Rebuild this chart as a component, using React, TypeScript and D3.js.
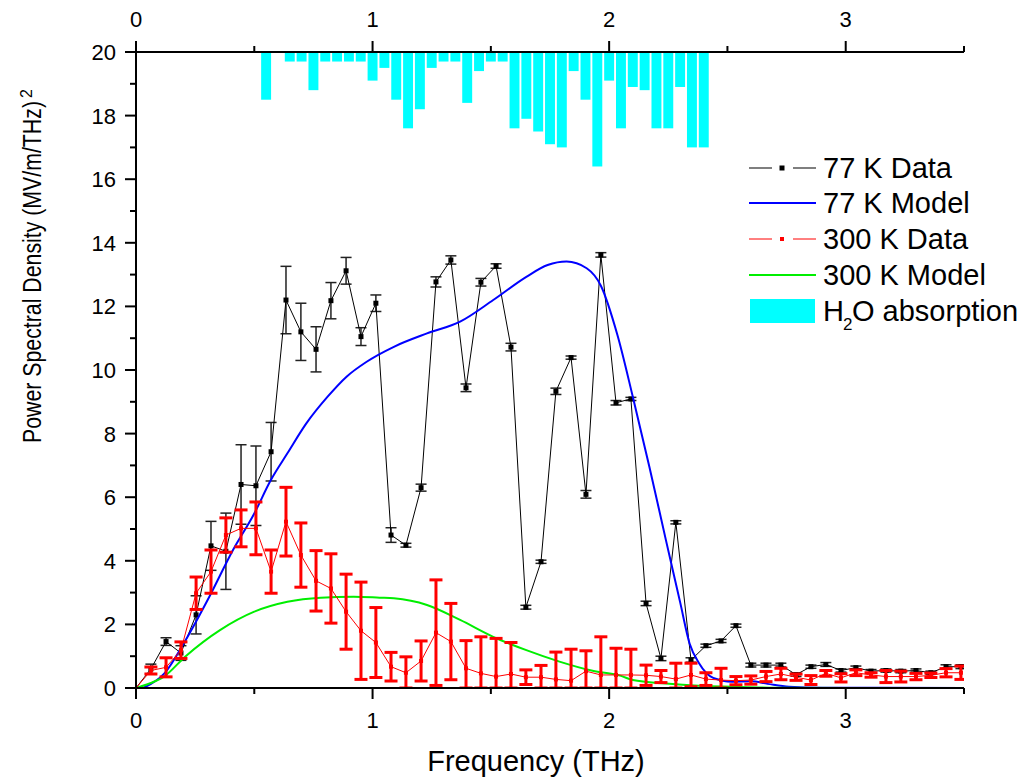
import React from 'react';
import * as d3 from 'd3';

// frequency grid of the measured spectra (THz)
const freq = [0, 0.063, 0.127, 0.19, 0.254, 0.317, 0.38, 0.444, 0.507, 0.571, 0.634, 0.697, 0.761, 0.824,
  0.888, 0.951, 1.014, 1.078, 1.141, 1.205, 1.268, 1.331, 1.395, 1.458, 1.522, 1.585, 1.648, 1.712, 1.775,
  1.839, 1.902, 1.965, 2.029, 2.092, 2.156, 2.219, 2.282, 2.346, 2.409, 2.473, 2.536, 2.599, 2.663, 2.726,
  2.79, 2.853, 2.916, 2.98, 3.043, 3.107, 3.17, 3.233, 3.297, 3.36, 3.424, 3.487];

// 77 K data + error
const data77 = [0, 0.6, 1.46, 1.1, 2.3, 4.47, 4.3, 6.4, 6.36, 7.43, 12.2, 11.2, 10.65, 12.18, 13.12, 11.05,
  12.1, 4.81, 4.49, 6.3, 12.77, 13.46, 9.44, 12.76, 13.27, 10.72, 2.54, 3.97, 9.33, 10.39, 6.09, 13.62, 8.97,
  9.09, 2.66, 0.93, 5.21, 0.88, 1.33, 1.48, 1.96, 0.72, 0.72, 0.72, 0.42, 0.67, 0.74, 0.55, 0.64, 0.53, 0.55,
  0.53, 0.55, 0.48, 0.67, 0.67];
const err77 = [0, 0.15, 0.12, 0.23, 0.6, 0.77, 1.2, 1.25, 1.25, 0.92, 1.06, 0.9, 0.71, 0.57, 0.42, 0.28, 0.26,
  0.23, 0.06, 0.11, 0.16, 0.13, 0.12, 0.12, 0.07, 0.12, 0.06, 0.05, 0.1, 0.05, 0.12, 0.07, 0.07, 0.05, 0.07,
  0.07, 0.05, 0.07, 0.05, 0.05, 0.05, 0.06, 0.06, 0.06, 0.05, 0.05, 0.06, 0.05, 0.05, 0.05, 0.05, 0.05, 0.05,
  0.05, 0.06, 0.06];

// 300 K data + error
const data300 = [0, 0.55, 0.65, 1.19, 2.98, 3.66, 4.81, 5.02, 5.02, 3.66, 5.23, 4.18, 3.37, 3.13, 2.4, 1.8,
  1.43, 0.67, 0.48, 0.85, 1.74, 1.46, 0.62, 0.46, 0.36, 0.44, 0.34, 0.34, 0.27, 0.23, 0.53, 0.41, 0.41, 0.41,
  0.4, 0.36, 0.28, 0.41, 0.28, 0.25, 0.23, 0.25, 0.36, 0.44, 0.34, 0.25, 0.46, 0.32, 0.48, 0.41, 0.36, 0.36,
  0.36, 0.4, 0.48, 0.48];
const err300 = [0, 0.11, 0.3, 0.26, 0.51, 0.68, 0.54, 0.58, 0.83, 0.68, 1.08, 1.01, 0.95, 1.09, 1.18, 1.53,
  1.1, 0.45, 0.5, 0.63, 1.66, 1.2, 0.87, 1.15, 1.2, 0.99, 0.23, 0.37, 0.86, 0.99, 0.64, 1.2, 0.84, 0.81, 0.32,
  0.19, 0.5, 0.37, 0.2, 0.37, 0.13, 0.13, 0.16, 0.18, 0.1, 0.14, 0.09, 0.13, 0.09, 0.07, 0.19, 0.17, 0.1,
  0.07, 0.13, 0.21];

// model curves, sampled
const model77X = [0.03, 0.12, 0.21, 0.31, 0.41, 0.5, 0.57, 0.64, 0.72, 0.81, 0.89, 0.975, 1.09, 1.23, 1.37,
  1.51, 1.65, 1.74, 1.82, 1.905, 1.965, 2.035, 2.1, 2.17, 2.24, 2.3, 2.34, 2.38, 2.44, 2.52, 2.6, 2.67, 2.76,
  2.9, 3.5];
const model77Y = [0, 0.46, 1.51, 2.87, 4.34, 5.49, 6.54, 7.38, 8.32, 9.16, 9.79, 10.26, 10.73, 11.15, 11.52,
  12.2, 12.93, 13.3, 13.41, 13.2, 12.65, 11.1, 9.16, 6.96, 4.65, 2.7, 1.4, 0.78, 0.32, 0.2, 0.21, 0.13, 0.04,
  0.01, 0];
const model300X = [0, 0.06, 0.115, 0.21, 0.355, 0.5, 0.64, 0.78, 0.92, 1.03, 1.09, 1.23, 1.37, 1.51, 1.65,
  1.79, 1.93, 2.05, 2.1, 2.24, 2.38, 2.52, 2.7, 3.0, 3.5];
const model300Y = [0, 0.15, 0.34, 1.0, 1.82, 2.4, 2.71, 2.84, 2.87, 2.84, 2.82, 2.61, 2.14, 1.61, 1.19, 0.83,
  0.54, 0.38, 0.25, 0.14, 0.07, 0.04, 0.01, 0, 0];

// water vapour absorption bars (value reached from the top at 20)
const h2oFreq = [0.55, 0.65, 0.7, 0.75, 0.8, 0.85, 0.9, 0.95, 1.0, 1.05, 1.1, 1.15, 1.2, 1.25, 1.3, 1.35, 1.4,
  1.45, 1.5, 1.55, 1.6, 1.65, 1.7, 1.75, 1.8, 1.85, 1.9, 1.95, 2.0, 2.05, 2.1, 2.15, 2.2, 2.25, 2.3, 2.35, 2.4];
const h2oLevel = [18.5, 19.7, 19.7, 18.8, 19.7, 19.7, 19.7, 19.7, 19.1, 19.5, 18.5, 17.6, 18.2, 19.5, 19.7,
  19.7, 18.4, 19.4, 19.7, 19.7, 17.6, 17.9, 17.5, 17.1, 17.0, 19.4, 18.5, 16.4, 19.1, 17.6, 18.9, 18.8, 17.6,
  17.6, 18.9, 17.0, 17.0];

const xMajor = [0, 1, 2, 3];
const xMinor = [0.5, 1.5, 2.5, 3.5];

const font = '"Liberation Sans", Arial, sans-serif';
const W = 1027, H = 781;
const L = 136, R = 964, T = 52, B = 688;

export default function App() {
  const x = d3.scaleLinear().domain([0, 3.5]).range([L, R]);
  const y = d3.scaleLinear().domain([0, 20]).range([B, T]);
  const yMajor = d3.range(0, 21, 2);
  const yMinor = d3.range(1, 20, 2);

  const line = d3.line<number>().x((_, i) => x(freq[i])).y(d => y(d));
  const curve = (xs: number[], ys: number[]) =>
    d3.line<number>().x((_, i) => x(xs[i])).y(d => y(d)).curve(d3.curveMonotoneX)(ys) || '';

  const errBars = (vals: number[], errs: number[], color: string, sw: number, cap: number) =>
    vals.map((v, i) => {
      if (errs[i] === 0) return null;
      const cx = x(freq[i]);
      const lo = y(Math.max(0, v - errs[i]));
      const hi = y(v + errs[i]);
      return (
        <g key={i} stroke={color} strokeWidth={sw}>
          <line x1={cx} x2={cx} y1={lo} y2={hi} />
          <line x1={cx - cap / 2} x2={cx + cap / 2} y1={lo} y2={lo} />
          <line x1={cx - cap / 2} x2={cx + cap / 2} y1={hi} y2={hi} />
        </g>
      );
    });

  const barW = x(0.042) - x(0);
  const legY = [168, 203, 239, 275, 311];

  return (
    <svg width={W} height={H} style={{ position: 'absolute', left: 0, top: 0, background: '#fff' }}
      fontFamily={font}>
      <defs>
        <clipPath id="plot"><rect x={L} y={T} width={R - L} height={B - T} /></clipPath>
      </defs>

      <g clipPath="url(#plot)">
        {h2oFreq.map((f, i) => (
          <rect key={i} x={x(f) - barW / 2} y={y(20)} width={barW} height={y(h2oLevel[i]) - y(20)} fill="#00ffff" />
        ))}

        {errBars(data77, err77, '#222', 1.5, 11)}
        <path d={line(data77) || ''} fill="none" stroke="#000" strokeWidth={1} />
        {data77.map((v, i) => i === 0 ? null :
          <rect key={i} x={x(freq[i]) - 2.5} y={y(v) - 2.5} width={5} height={5} fill="#000" />)}

        <path d={curve(model77X, model77Y)} fill="none" stroke="#0000ff" strokeWidth={2} />
        <path d={curve(model300X, model300Y)} fill="none" stroke="#00ee00" strokeWidth={2} />

        {errBars(data300, err300, '#ff0000', 3, 13)}
        <path d={line(data300) || ''} fill="none" stroke="#ff0000" strokeWidth={1} />
        {data300.map((v, i) => i === 0 ? null :
          <rect key={i} x={x(freq[i]) - 2} y={y(v) - 2} width={4} height={4} fill="#ff0000" />)}
      </g>

      {/* axes */}
      <g stroke="#000" strokeWidth={2}>
        <line x1={L} x2={R} y1={B} y2={B} />
        <line x1={L} x2={R} y1={T} y2={T} />
        <line x1={L} x2={L} y1={T - 1} y2={B + 1} />
        {xMajor.map(t => <line key={'bM' + t} x1={x(t)} x2={x(t)} y1={B} y2={B + 11} />)}
        {xMinor.map(t => <line key={'bm' + t} x1={x(t)} x2={x(t)} y1={B} y2={B + 6} />)}
        {xMajor.map(t => <line key={'tM' + t} x1={x(t)} x2={x(t)} y1={T} y2={T - 11} />)}
        {xMinor.map(t => <line key={'tm' + t} x1={x(t)} x2={x(t)} y1={T} y2={T - 6} />)}
        {yMajor.map(t => <line key={'yM' + t} x1={L} x2={L - 11} y1={y(t)} y2={y(t)} />)}
        {yMinor.map(t => <line key={'ym' + t} x1={L} x2={L - 6} y1={y(t)} y2={y(t)} />)}
      </g>
      <g fontSize={22} fill="#000">
        {xMajor.map(t => <text key={'bl' + t} x={x(t)} y={728} textAnchor="middle">{t}</text>)}
        {xMajor.map(t => <text key={'tl' + t} x={x(t)} y={27} textAnchor="middle">{t}</text>)}
        {yMajor.map(t => <text key={'yl' + t} x={116} y={y(t) + 8} textAnchor="end">{t}</text>)}
      </g>

      <text x={536} y={771} fontSize={29} textAnchor="middle">Frequency (THz)</text>
      <g transform="translate(41,443) rotate(-90)">
        <text x={0} y={0} fontSize={26} textLength={342} lengthAdjust="spacingAndGlyphs">
          Power Spectral Density (MV/m/THz)
        </text>
        <text x={345} y={-9} fontSize={16}>2</text>
      </g>

      {/* legend */}
      <g fontSize={29} fill="#000">
        <line x1={749} x2={772} y1={legY[0]} y2={legY[0]} stroke="#555" strokeWidth={1.5} />
        <line x1={793} x2={816} y1={legY[0]} y2={legY[0]} stroke="#555" strokeWidth={1.5} />
        <rect x={779.5} y={legY[0] - 2.5} width={5} height={5} fill="#000" />
        <text x={823} y={legY[0] + 10}>77 K Data</text>

        <line x1={749} x2={816} y1={legY[1]} y2={legY[1]} stroke="#0000ff" strokeWidth={2} />
        <text x={823} y={legY[1] + 10}>77 K Model</text>

        <line x1={749} x2={772} y1={legY[2]} y2={legY[2]} stroke="#ff0000" strokeWidth={1} />
        <line x1={793} x2={816} y1={legY[2]} y2={legY[2]} stroke="#ff0000" strokeWidth={1} />
        <rect x={780} y={legY[2] - 2} width={4} height={4} fill="#ff0000" />
        <text x={823} y={legY[2] + 10}>300 K Data</text>

        <line x1={749} x2={816} y1={legY[3]} y2={legY[3]} stroke="#00ee00" strokeWidth={2} />
        <text x={823} y={legY[3] + 10}>300 K Model</text>

        <rect x={750} y={legY[4] - 12} width={65} height={24} fill="#00ffff" />
        <text x={823} y={legY[4] + 10}>H</text>
        <text x={843} y={legY[4] + 19} fontSize={17}>2</text>
        <text x={852} y={legY[4] + 10}>O absorption</text>
      </g>
    </svg>
  );
}
